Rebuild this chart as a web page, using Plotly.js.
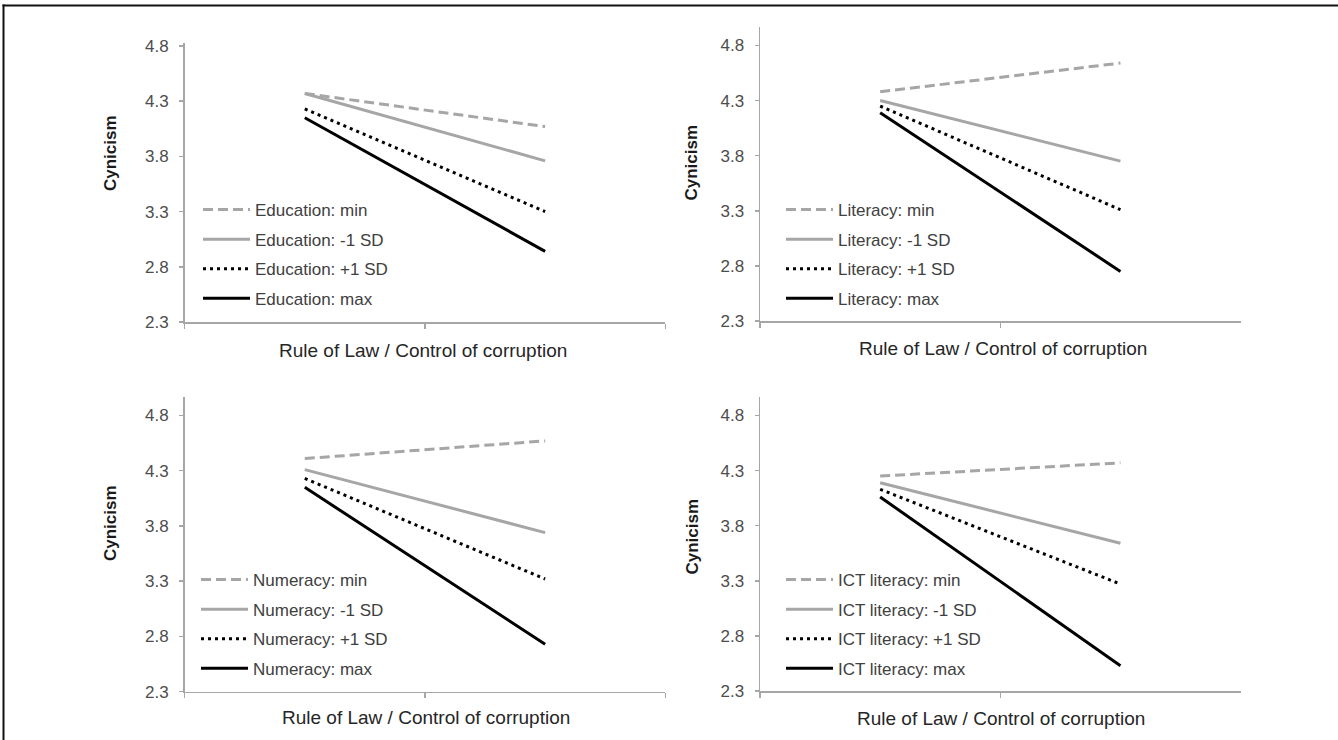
<!DOCTYPE html>
<html>
<head>
<meta charset="utf-8">
<script src="https://cdn.plot.ly/plotly-3.0.1.min.js"></script>
<style>html,body{margin:0;padding:0;background:#fff;}#chart{width:1338px;height:740px;}</style>
</head>
<body>
<div id="chart"></div>
<script>
// ---- data ----
const categories = ["Low", "High"];
const xAxisTitle = "Rule of Law / Control of corruption";
const yAxisTitle = "Cynicism";
const yTickVals = [2.3, 2.8, 3.3, 3.8, 4.3, 4.8];

const educationLabels = ["Education: min", "Education: -1 SD", "Education: +1 SD", "Education: max"];
const educationMin = [4.37, 4.07];
const educationMinus1SD = [4.37, 3.76];
const educationPlus1SD = [4.23, 3.30];
const educationMax = [4.15, 2.94];

const literacyLabels = ["Literacy: min", "Literacy: -1 SD", "Literacy: +1 SD", "Literacy: max"];
const literacyMin = [4.38, 4.64];
const literacyMinus1SD = [4.30, 3.75];
const literacyPlus1SD = [4.25, 3.31];
const literacyMax = [4.19, 2.75];

const numeracyLabels = ["Numeracy: min", "Numeracy: -1 SD", "Numeracy: +1 SD", "Numeracy: max"];
const numeracyMin = [4.41, 4.57];
const numeracyMinus1SD = [4.31, 3.74];
const numeracyPlus1SD = [4.23, 3.32];
const numeracyMax = [4.15, 2.73];

const ictLabels = ["ICT literacy: min", "ICT literacy: -1 SD", "ICT literacy: +1 SD", "ICT literacy: max"];
const ictMin = [4.25, 4.37];
const ictMinus1SD = [4.19, 3.64];
const ictPlus1SD = [4.13, 3.27];
const ictMax = [4.06, 2.53];

// ---- styling ----
const W = 1338, H = 740;
const px = v => v / W;
const py = v => 1 - v / H;
const GRAY = "#a6a6a6";
const lineStyles = [
  {color: GRAY, width: 3, dash: "10px,5px"},
  {color: GRAY, width: 3, dash: "solid"},
  {color: "#000000", width: 3, dash: "3px,4px"},
  {color: "#000000", width: 3, dash: "solid"}
];

const panels = [
  {labels: educationLabels, series: [educationMin, educationMinus1SD, educationPlus1SD, educationMax],
   xd: [184.6, 665.3], yd: [322, 42.7], yr: [2.3, 4.83], legend: [198, 192], ytitle: [110, 153], xtitle: [423, 350]},
  {labels: literacyLabels, series: [literacyMin, literacyMinus1SD, literacyPlus1SD, literacyMax],
   xd: [760, 1240.6], yd: [321, 26.7], yr: [2.3, 4.97], legend: [781, 192], ytitle: [691.5, 163], xtitle: [1003, 348]},
  {labels: numeracyLabels, series: [numeracyMin, numeracyMinus1SD, numeracyPlus1SD, numeracyMax],
   xd: [184.6, 665.3], yd: [691.7, 396.7], yr: [2.3, 4.97], legend: [196, 562], ytitle: [110, 523], xtitle: [426, 717]},
  {labels: ictLabels, series: [ictMin, ictMinus1SD, ictPlus1SD, ictMax],
   xd: [760, 1240.6], yd: [691, 396.7], yr: [2.3, 4.97], legend: [781, 562], ytitle: [691.5, 537], xtitle: [1001, 718]}
];

const FONT = "Liberation Sans, Arial, sans-serif";
const traces = [];
const layout = {
  width: W, height: H,
  margin: {l: 0, r: 0, t: 0, b: 0},
  paper_bgcolor: "#ffffff", plot_bgcolor: "rgba(0,0,0,0)",
  showlegend: true,
  font: {family: FONT, color: "#404040"},
  annotations: [],
  shapes: [
    {type: "line", xref: "paper", yref: "paper", x0: px(3.5), x1: px(3.5), y0: 0, y1: py(4.5), line: {color: "#111", width: 2}},
    {type: "line", xref: "paper", yref: "paper", x0: px(2.5), x1: 1, y0: py(5.5), y1: py(5.5), line: {color: "#111", width: 2}}
  ]
};

panels.forEach((p, i) => {
  const n = i + 1;
  const xa = n === 1 ? "x" : "x" + n;
  const ya = n === 1 ? "y" : "y" + n;
  const lg = n === 1 ? "legend" : "legend" + n;
  p.series.forEach((vals, k) => {
    traces.push({
      type: "scatter", mode: "lines",
      x: categories, y: vals,
      name: p.labels[k],
      xaxis: xa, yaxis: ya, legend: lg,
      legendgroup: "p" + n + "g" + k,
      line: lineStyles[k],
      hoverinfo: "name+y"
    });
  });
  layout[(n === 1 ? "xaxis" : "xaxis" + n)] = {
    domain: [px(p.xd[0]), px(p.xd[1])],
    anchor: ya,
    type: "category",
    range: [-0.5, 1.5],
    showgrid: false, zeroline: false,
    showline: true, linecolor: GRAY, linewidth: 1.5,
    ticks: "outside", tickson: "boundaries", ticklen: 5, tickcolor: GRAY, tickwidth: 1.5,
    showticklabels: false,
    fixedrange: true
  };
  layout[(n === 1 ? "yaxis" : "yaxis" + n)] = {
    domain: [py(p.yd[0]), py(p.yd[1])],
    anchor: xa,
    range: p.yr,
    tickvals: yTickVals,
    ticktext: yTickVals.map(v => v.toFixed(1)),
    showgrid: false, zeroline: false,
    showline: true, linecolor: GRAY, linewidth: 1.5,
    ticks: "outside", ticklen: 4, tickcolor: GRAY, tickwidth: 1.5,
    ticklabelstandoff: 7,
    tickfont: {family: FONT, size: 17, color: "#4d4d4d"},
    fixedrange: true
  };
  layout[lg] = {
    x: px(p.legend[0]), y: py(p.legend[1]), xanchor: "left", yanchor: "top",
    bgcolor: "rgba(0,0,0,0)", borderwidth: 0,
    itemwidth: 47, tracegroupgap: 4.5, traceorder: "grouped",
    font: {family: FONT, size: 17, color: "#404040"}
  };
  layout.annotations.push({
    xref: "paper", yref: "paper", x: px(p.ytitle[0]), y: py(p.ytitle[1]),
    text: "<b>" + yAxisTitle + "</b>", textangle: -90, showarrow: false,
    xanchor: "center", yanchor: "middle",
    font: {family: FONT, size: 17, color: "#1a1a1a"}
  });
  layout.annotations.push({
    xref: "paper", yref: "paper", x: px(p.xtitle[0]), y: py(p.xtitle[1]),
    text: xAxisTitle, showarrow: false,
    xanchor: "center", yanchor: "middle",
    font: {family: FONT, size: 19, color: "#262626"}
  });
});

Plotly.newPlot("chart", traces, layout, {staticPlot: true, displayModeBar: false});
</script>
</body>
</html>
